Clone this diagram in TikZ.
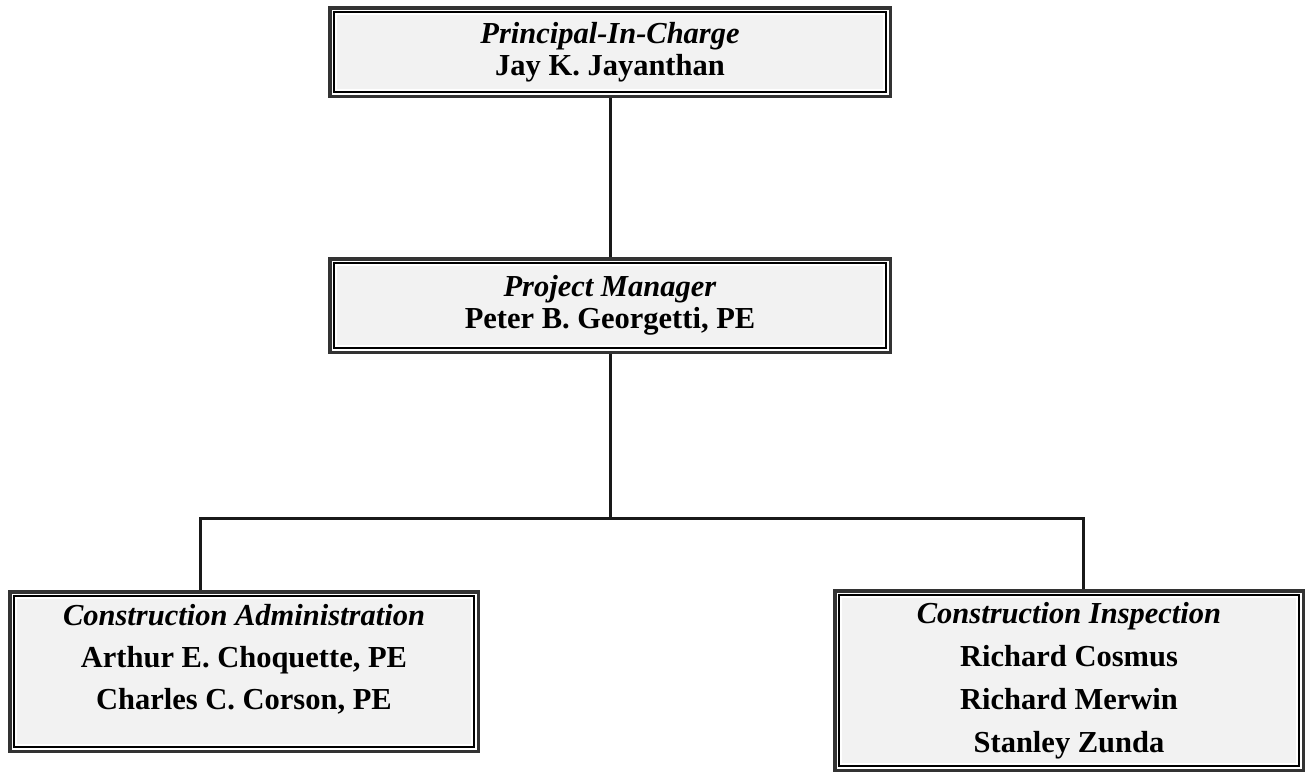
\documentclass[tikz,border=0pt]{standalone}
\usepackage{fontspec}
\setmainfont{Liberation Serif}
\usetikzlibrary{calc}

\begin{document}
\begin{tikzpicture}[x=1pt,y=-1pt,
  orgbox/.style={draw=black!80, line width=7pt, fill=black!5, align=center,
    inner sep=0pt, font=\fontsize{30.5}{32}\selectfont\bfseries},
  link/.style={line width=3pt, draw=black!90}]
  \useasboundingbox (0,0) rectangle (1307,774);

  %% Boxes of the chart
  \node[orgbox, minimum width=557, minimum height=85] (PIC) at (610,52)
    {\textit{Principal-In-Charge}\\ Jay K. Jayanthan};
  \node[orgbox, minimum width=557, minimum height=90] (PM) at (610,305.5)
    {\textit{Project Manager}\\ Peter B. Georgetti, PE};
  \node[orgbox, minimum width=465, minimum height=156, text depth=30pt,
    font=\fontsize{30.5}{42}\selectfont\bfseries] (CA) at (244,671.5)
    {\textit{Construction Administration}\\ Arthur E. Choquette, PE\\ Charles C. Corson, PE};
  \node[orgbox, minimum width=465, minimum height=176,
    font=\fontsize{30.5}{43}\selectfont\bfseries] (CI) at (1069,680.5)
    {\textit{Construction Inspection}\\ Richard Cosmus\\ Richard Merwin\\ Stanley Zunda};

  %% Inner frame lines
  \foreach \n in {PIC,PM,CA,CI}
  {
    \draw[white, line width=1.5pt] ($(\n.north west)+(4.25,4.25)$) rectangle ($(\n.south east)-(4.25,4.25)$);
    \draw[black, line width=2pt] ($(\n.north west)+(6,6)$) rectangle ($(\n.south east)-(6,6)$);
    \draw[white, line width=2pt] ($(\n.north west)+(8,8)$) rectangle ($(\n.south east)-(8,8)$);
  }

  %% Connectors
  \coordinate (busL) at (200,518);
  \coordinate (busR) at (1083,518);
  \draw[link] (PIC.south) -- (PM.north);
  \draw[link] (PM.south) -- (PM.south |- busL);
  \draw[link, line join=miter] (CA.north -| busL) -- (busL) -- (busR) -- (CI.north -| busR);
\end{tikzpicture}
\end{document}
